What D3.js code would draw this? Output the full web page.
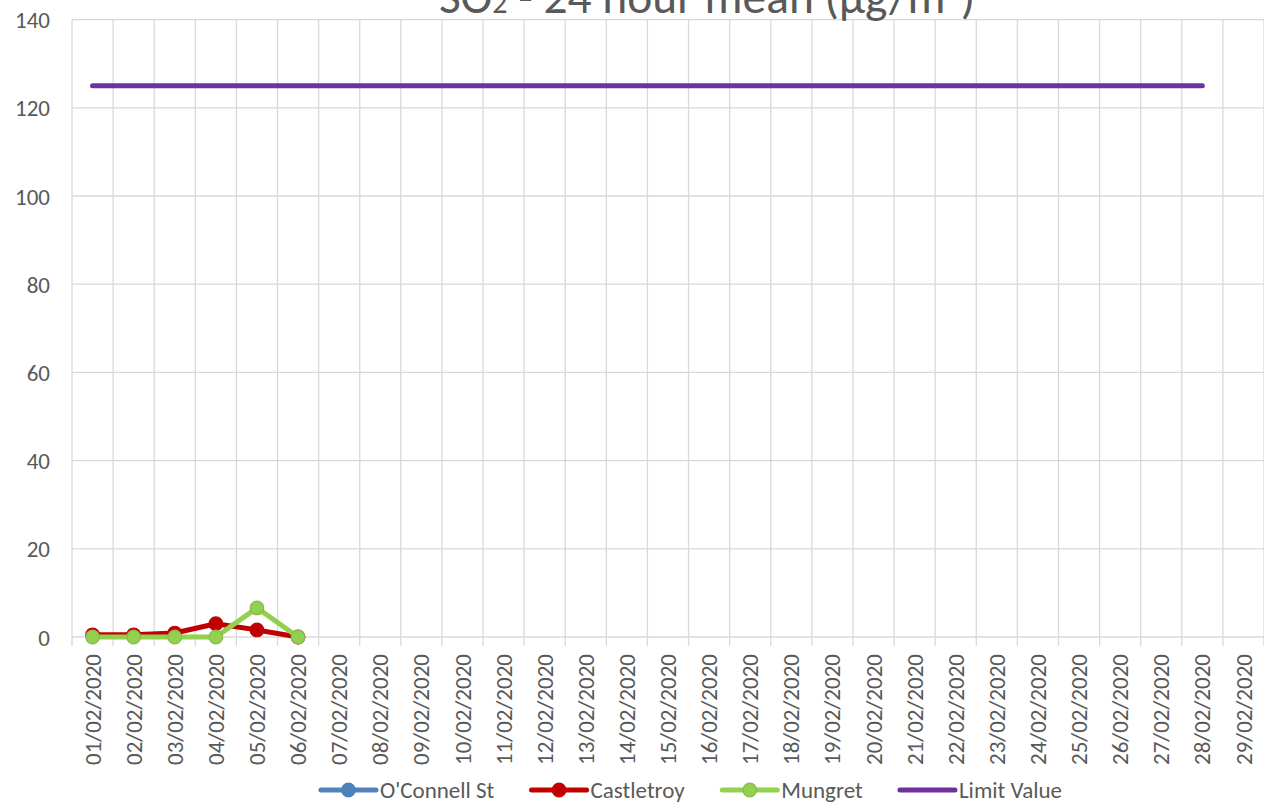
<!DOCTYPE html>
<html>
<head>
<meta charset="utf-8">
<script src="https://cdn.jsdelivr.net/npm/d3@7"></script>
<style>
  html, body { margin: 0; padding: 0; background: #fff; }
  svg { display: block; font-family: Carlito, Calibri, Lato, "Open Sans", sans-serif; }
</style>
</head>
<body>
<svg id="chart" width="1264" height="810"></svg>
<script>
// SO2 24-hour mean, Limerick stations, February 2020
const dates = d3.range(1, 30).map((d) => `${String(d).padStart(2, "0")}/02/2020`);
const yTicks = [0, 20, 40, 60, 80, 100, 120, 140];

const oconnell = [];                                  // no readings this month
const castletroy = [0.5, 0.5, 0.9, 3.0, 1.6, 0.0];
const mungret = [0.0, 0.0, 0.0, 0.0, 6.6, 0.0];
const limitValue = d3.range(28).map(() => 125);       // 01..28 Feb

const series = [
  { name: "O'Connell St", values: oconnell, color: "#4f81bd", stroke: "#4f81bd", marker: true },
  { name: "Castletroy", values: castletroy, color: "#c00000", stroke: "#c00000", marker: true },
  { name: "Mungret", values: mungret, color: "#92d050", stroke: "#8ab84c", marker: true },
  { name: "Limit Value", values: limitValue, color: "#7030a0", stroke: "#7030a0", marker: false },
];

const plot = { left: 72, right: 1264, top: 19.6, bottom: 637 };
const TXT = "#595959", GRID = "#d9d9d9";
const FS = 23;

const svg = d3.select("#chart");

const x = d3.scaleBand().domain(dates).range([plot.left, plot.right]).padding(0);
const y = d3.scaleLinear().domain([0, 140]).range([plot.bottom, plot.top]);
const cx = (i) => x(dates[i]) + x.bandwidth() / 2;

// gridlines: horizontal at ticks, vertical at category boundaries (with tick stubs below the axis)
const gGrid = svg.append("g");
gGrid.selectAll("line.h").data(yTicks).join("line")
  .attr("x1", plot.left).attr("x2", plot.right)
  .attr("y1", (d) => y(d)).attr("y2", (d) => y(d))
  .attr("stroke", GRID).attr("stroke-width", 1.3);
gGrid.selectAll("line.v").data(dates.concat(["end"])).join("line")
  .attr("x1", (d, i) => (i < dates.length ? x(d) : plot.right))
  .attr("x2", (d, i) => (i < dates.length ? x(d) : plot.right))
  .attr("y1", plot.top).attr("y2", plot.bottom + 9)
  .attr("stroke", GRID).attr("stroke-width", 1.3);

// y axis labels
const yAxis = d3.axisLeft(y).tickValues(yTicks).tickSize(0).tickPadding(0);
const gy = svg.append("g").attr("transform", `translate(50,0)`).call(yAxis)
  .attr("font-family", null).attr("font-size", null);
gy.select(".domain").remove();
gy.selectAll("text")
  .attr("font-size", FS).attr("fill", TXT).attr("dy", "0.35em");

// x axis labels (rotated)
const xAxis = d3.axisBottom(x).tickSize(0).tickPadding(0);
const gx = svg.append("g").attr("transform", `translate(0,${plot.bottom})`).call(xAxis)
  .attr("font-family", null).attr("font-size", null);
gx.select(".domain").remove();
gx.selectAll("text")
  .attr("font-size", FS).attr("fill", TXT)
  .attr("transform", "rotate(-90)")
  .attr("text-anchor", "end")
  .attr("x", -17).attr("y", 0).attr("dy", "0.35em");

// series
const line = d3.line().x((d, i) => cx(i)).y((d) => y(d));
const gSeries = svg.append("g");
series.forEach((s) => {
  if (!s.values.length) return;
  gSeries.append("path")
    .attr("d", line(s.values))
    .attr("fill", "none")
    .attr("stroke", s.color)
    .attr("stroke-width", 5)
    .attr("stroke-linejoin", "round")
    .attr("stroke-linecap", "round");
  if (s.marker) {
    gSeries.append("g").selectAll("circle").data(s.values).join("circle")
      .attr("cx", (d, i) => cx(i)).attr("cy", (d) => y(d))
      .attr("r", 6.8)
      .attr("fill", s.color)
      .attr("stroke", s.stroke).attr("stroke-width", 1.2);
  }
});

// title (top clipped by the frame, as in the original)
const title = svg.append("text")
  .attr("x", 707).attr("y", 13)
  .attr("text-anchor", "middle")
  .attr("font-size", 47.5).attr("fill", TXT);
title.append("tspan").text("SO");
title.append("tspan").attr("font-size", 30).text("2");
title.append("tspan").text(" - 24 hour mean (µg/m");
title.append("tspan").attr("font-size", 30).attr("dy", -17).text("3");
title.append("tspan").attr("dy", 17).text(")");

// legend
const gLeg = svg.append("g").attr("transform", "translate(0,790)");
const items = gLeg.selectAll("g").data(series).join("g");
items.append("line")
  .attr("x1", 0).attr("x2", 55).attr("y1", 0).attr("y2", 0)
  .attr("stroke", (d) => d.color).attr("stroke-width", 5).attr("stroke-linecap", "round");
items.filter((d) => d.marker).append("circle")
  .attr("cx", 27.5).attr("cy", 0).attr("r", 6.8)
  .attr("fill", (d) => d.color).attr("stroke", (d) => d.stroke).attr("stroke-width", 1.2);
items.append("text")
  .attr("x", 59).attr("y", 0).attr("dy", "0.35em")
  .attr("font-size", FS).attr("fill", TXT)
  .text((d) => d.name);
const widths = [];
items.each(function () { widths.push(this.getBBox().width); });
const gap = 37;
const total = d3.sum(widths) + gap * (widths.length - 1);
let xpos = 691.5 - total / 2;
items.attr("transform", (d, i) => {
  const t = `translate(${xpos},0)`;
  xpos += widths[i] + gap;
  return t;
});
</script>
</body>
</html>
